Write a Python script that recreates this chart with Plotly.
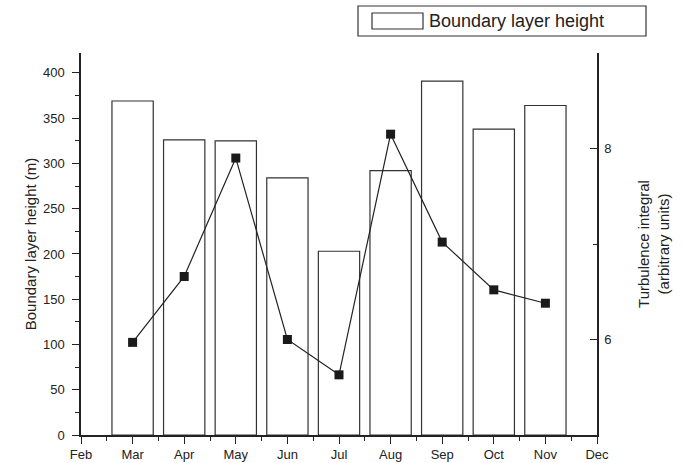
import plotly.graph_objects as go

# ---- data ----
axis_months = ["Feb", "Mar", "Apr", "May", "Jun", "Jul", "Aug", "Sep", "Oct", "Nov", "Dec"]
data_months = ["Mar", "Apr", "May", "Jun", "Jul", "Aug", "Sep", "Oct", "Nov"]
boundary_layer_height = [369, 326, 325, 284, 203, 292, 391, 338, 364]
turbulence_integral = [5.97, 6.66, 7.90, 6.00, 5.63, 8.15, 7.02, 6.52, 6.38]

month_pos = {m: i + 2 for i, m in enumerate(axis_months)}
xs = [month_pos[m] for m in data_months]
tickvals = [month_pos[m] for m in axis_months]

FONT = "Arial, Liberation Sans, Helvetica, sans-serif"
AX = "#222222"

fig = go.Figure()
fig.add_trace(go.Bar(
    x=xs, y=boundary_layer_height, name="Boundary layer height",
    width=0.8, marker=dict(color="white", line=dict(color="#333333", width=1.2)),
    showlegend=False, yaxis="y",
))
fig.add_trace(go.Scatter(
    x=xs, y=turbulence_integral, name="Turbulence integral",
    mode="lines+markers", yaxis="y2",
    line=dict(color="#222222", width=1.2),
    marker=dict(symbol="square", size=9, color="#1a1a1a"),
    showlegend=False,
))

fig.update_layout(
    width=686, height=463,
    margin=dict(l=81, r=89, t=53, b=28),
    paper_bgcolor="white", plot_bgcolor="white",
    font=dict(family=FONT, size=13, color="#222222"),
    xaxis=dict(
        range=[2, 12], tickvals=tickvals, ticktext=axis_months, automargin=False,
        showgrid=False, zeroline=False, showline=True, linecolor=AX, linewidth=1.5,
        ticks="outside", ticklen=7, tickwidth=1.2, tickcolor=AX,
        minor=dict(dtick=0.5, tick0=2, ticks="outside", ticklen=4, tickwidth=1.2, tickcolor=AX),
        tickfont=dict(size=13),
    ),
    yaxis=dict(
        range=[0, 422], dtick=50, tick0=0, automargin=False,
        showgrid=False, zeroline=False, showline=True, linecolor=AX, linewidth=1.5,
        ticks="outside", ticklen=7, tickwidth=1.2, tickcolor=AX,
        minor=dict(dtick=25, tick0=0, ticks="outside", ticklen=4, tickwidth=1.2, tickcolor=AX),
        ticklabelstandoff=5,
        tickfont=dict(size=13),
        title=dict(text="Boundary layer height (m)", font=dict(size=15), standoff=3),
    ),
    yaxis2=dict(
        overlaying="y", side="right", anchor="x", automargin=False,
        range=[5, 9], tickvals=[6, 8],
        showgrid=False, zeroline=False, showline=True, linecolor=AX, linewidth=1.5,
        ticks="inside", ticklen=7, tickwidth=1.2, tickcolor=AX,
        minor=dict(tickvals=[5, 7, 9], ticks="inside", ticklen=4, tickwidth=1.2, tickcolor=AX),
        ticklabelstandoff=3,
        tickfont=dict(size=13),
        title=dict(text="Turbulence integral<br>(arbitrary units)", font=dict(size=15), standoff=28),
    ),
    shapes=[
        dict(type="rect", xref="paper", yref="paper",
             x0=(358 - 81) / 516, x1=(646 - 81) / 516,
             y0=(435 - 36) / 382, y1=(435 - 6) / 382,
             line=dict(color="#333333", width=1.2), fillcolor="white"),
        dict(type="rect", xref="paper", yref="paper",
             x0=(372 - 81) / 516, x1=(423 - 81) / 516,
             y0=(435 - 29) / 382, y1=(435 - 13) / 382,
             line=dict(color="#333333", width=1.2), fillcolor="white"),
    ],
    annotations=[
        dict(text="Boundary layer height", xref="paper", yref="paper",
             x=(427 - 81) / 516, y=(435 - 21) / 382, xanchor="left", yanchor="middle",
             showarrow=False, font=dict(size=18, family=FONT, color="#222222")),
    ],
)

fig.write_html("out.html")
